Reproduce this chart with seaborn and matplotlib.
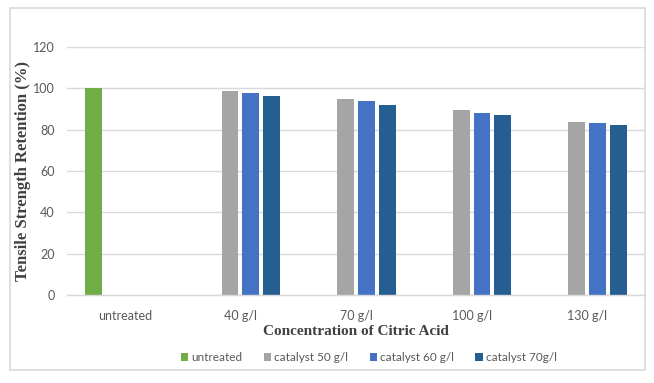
import matplotlib
matplotlib.use("Agg")
import matplotlib.pyplot as plt
from matplotlib.patches import Rectangle, Patch
import seaborn as sns
import pandas as pd

categories = ["untreated", "40 g/l", "70 g/l", "100 g/l", "130 g/l"]
series = ["untreated", "catalyst 50 g/l", "catalyst 60 g/l", "catalyst 70g/l"]
untreated_vals = [100]
cat50 = [98.8, 94.8, 89.6, 83.6]
cat60 = [97.7, 93.8, 88.1, 83.3]
cat70 = [96.4, 92.0, 87.3, 82.4]
colors = ["#70AD47", "#A5A5A5", "#4472C4", "#255E91"]

rows = [("untreated", "untreated", untreated_vals[0])]
for s, vals in zip(series[1:], [cat50, cat60, cat70]):
    for c, v in zip(categories[1:], vals):
        rows.append((c, s, v))
df = pd.DataFrame(rows, columns=["category", "series", "value"])

sns.set_theme(style="white")
plt.rcParams["font.family"] = ["Lato", "DejaVu Sans"]

fig = plt.figure(figsize=(6.54, 3.83), dpi=100)
ax = fig.add_axes([0.1024, 0.2298, 0.8838, 0.6475])

sns.barplot(data=df, x="category", y="value", hue="series", order=categories,
            hue_order=series, palette=dict(zip(series, colors)), width=0.72,
            gap=0.19, dodge=True, ax=ax, legend=False, linewidth=0, saturation=1)

ax.set_ylim(0, 120)
ax.set_yticks(range(0, 121, 20))
ax.set_xlim(-0.5, len(categories) - 0.5)
ax.yaxis.grid(True, color="#D9D9D9", linewidth=1)
ax.set_axisbelow(True)
for side in ["top", "right", "left"]:
    ax.spines[side].set_visible(False)
ax.spines["bottom"].set_color("#D9D9D9")
ax.spines["bottom"].set_linewidth(1)

ax.set_xticks(range(len(categories)))
ax.set_xticklabels(categories)
ax.tick_params(axis="x", length=0, labelsize=9, labelcolor="#595959", pad=11)
ax.tick_params(axis="y", length=0, labelsize=9, labelcolor="#595959", pad=9)
# category boundary tick marks
ax.set_xticks([i - 0.5 for i in range(len(categories) + 1)], minor=True)
ax.tick_params(axis="x", which="minor", length=5, color="#D9D9D9", width=1, direction="out")

ax.set_xlabel("Concentration of Citric Acid", family="Liberation Serif", fontweight="bold",
              fontsize=11, color="#404040", labelpad=2)
ax.set_ylabel("Tensile Strength Retention (%)", family="Liberation Serif", fontweight="bold",
              fontsize=12, color="#404040")
ax.yaxis.set_label_coords(-0.063, 0.5)

handles = [Patch(facecolor=c, edgecolor="none") for c in colors]
fig.legend(handles, series, loc="center", bbox_to_anchor=(0.564, 0.066), ncol=4, frameon=False,
           fontsize=8.5, handlelength=0.65, handleheight=0.7, handletextpad=0.25,
           columnspacing=1.8, labelcolor="#595959")

fig.patches.append(Rectangle((10 / 654, 1 - 370 / 383), (645 - 10) / 654, (370 - 8) / 383,
                             transform=fig.transFigure, fill=False, edgecolor="#D9D9D9",
                             linewidth=1.2, zorder=0))

fig.savefig("out.png", dpi=100)
